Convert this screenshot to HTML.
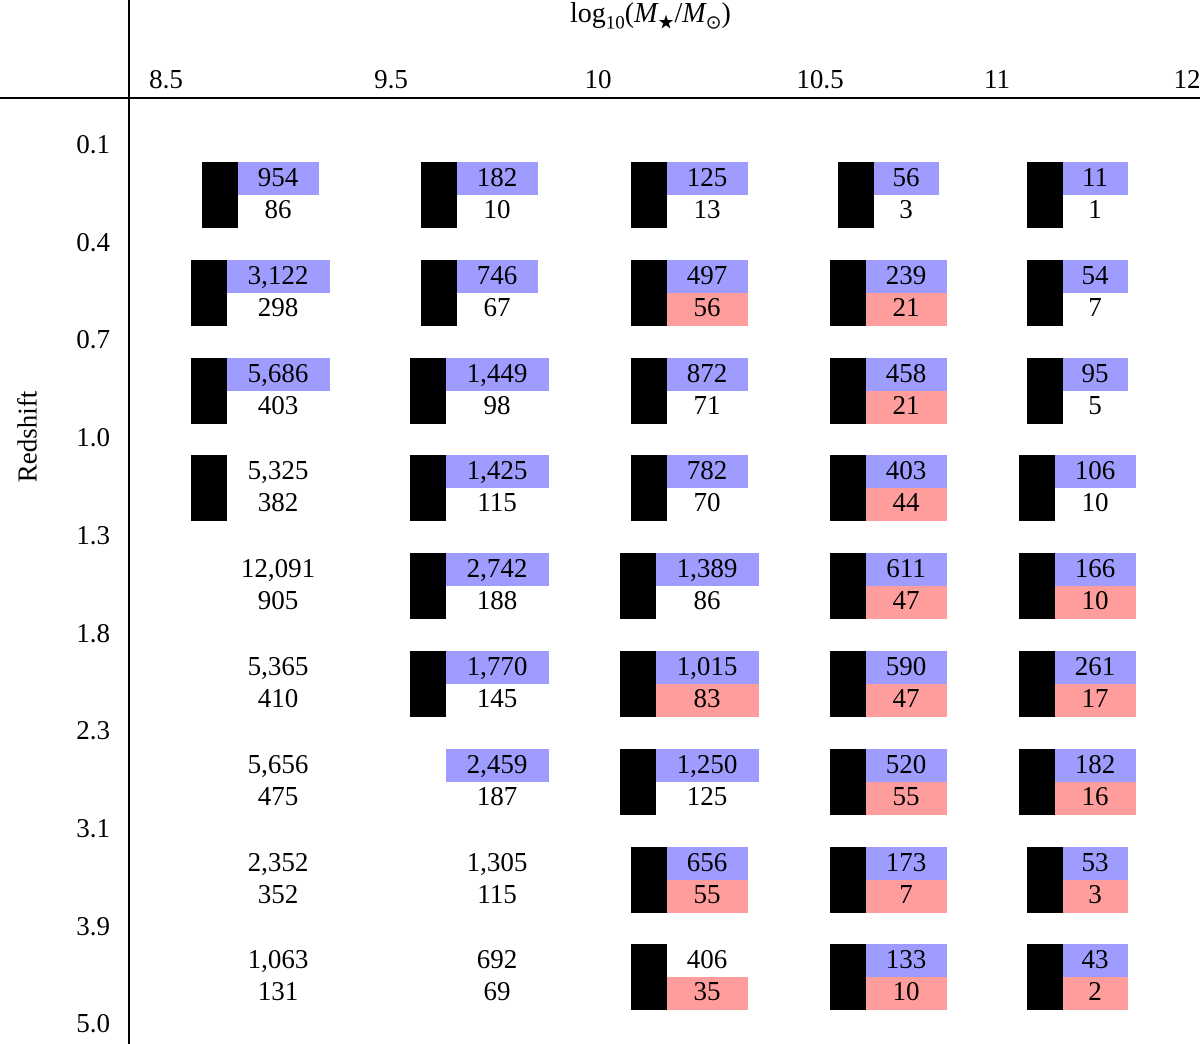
<!DOCTYPE html>
<html><head><meta charset="utf-8"><style>
body{margin:0;background:#fff;font-family:"Liberation Serif",serif;}
#c{position:relative;width:1200px;height:1044px;overflow:hidden;}
.t{position:absolute;font-size:27px;color:#000;white-space:nowrap;line-height:1;}
.bx{position:absolute;}
</style></head><body>
<div id="c">
<div class="bx" style="left:128px;top:0;width:1.5px;height:1044px;background:#000"></div>
<div class="bx" style="left:0;top:97px;width:1200px;height:1.5px;background:#000"></div>
<div class="t" style="left:570px;top:0px;font-size:28px">log<sub style="font-size:19px">10</sub>(<i>M</i><sub style="font-size:19px">★</sub>/<i>M</i><sub style="font-size:19px">⊙</sub>)</div>
<div class="t" style="left:-18px;top:423px;transform:rotate(-90deg);">Redshift</div>
</div>
<script>
const xTicks=["8.5","9.5","10","10.5","11","12"];
const xTickPos=[166,391,598,820,997,1187];
const zTicks=["0.1","0.4","0.7","1.0","1.3","1.8","2.3","3.1","3.9","5.0"];
const topVals=[
["954","182","125","56","11"],
["3,122","746","497","239","54"],
["5,686","1,449","872","458","95"],
["5,325","1,425","782","403","106"],
["12,091","2,742","1,389","611","166"],
["5,365","1,770","1,015","590","261"],
["5,656","2,459","1,250","520","182"],
["2,352","1,305","656","173","53"],
["1,063","692","406","133","43"]];
const botVals=[
["86","10","13","3","1"],
["298","67","56","21","7"],
["403","98","71","21","5"],
["382","115","70","44","10"],
["905","188","86","47","10"],
["410","145","83","47","17"],
["475","187","125","55","16"],
["352","115","55","7","3"],
["131","69","35","10","2"]];
const flags=[
["bu","bu","bu","bu","bu"],
["bu","bu","bur","bur","bu"],
["bu","bu","bu","bur","bu"],
["b","bu","bu","bur","bu"],
["","bu","bu","bur","bur"],
["","bu","bur","bur","bur"],
["","u","bu","bur","bur"],
["","","bur","bur","bur"],
["","","br","bur","bur"]];
const colCenters=[278,497,707,906,1095];
const c=document.getElementById('c');
function add(cls,style,txt){const d=document.createElement('div');d.className=cls;d.style.cssText=style;if(txt!==undefined)d.textContent=txt;c.appendChild(d);return d;}
xTicks.forEach((t,i)=>{const d=add('t',`left:${xTickPos[i]-40}px;width:80px;text-align:center;top:66px`,t);

});
zTicks.forEach((t,i)=>{const d=add('t',`left:40px;width:70px;text-align:right;top:${131+i*97.7}px`,t);

});
function bw(s){return s.length<=2?65:(s.length===3?81:103);}
for(let r=0;r<topVals.length;r++){for(let k=0;k<5;k++){
 const cx=colCenters[k],y=162+r*97.8,w=bw(topVals[r][k]),f=flags[r][k];
 if(f.includes('b')){const d=add('bx',`left:${cx-w/2-36}px;top:${y}px;width:36px;height:66px;background:#000`);
 
 }
 if(f.includes('u')){const d=add('bx',`left:${cx-w/2}px;top:${y}px;width:${w}px;height:33px;background:#9f9cff`);
 
 }
 if(f.includes('r')){const d=add('bx',`left:${cx-w/2}px;top:${y+33}px;width:${w}px;height:33px;background:#ff9c9c`);
 
 }
 const a=add('t',`left:${cx-60}px;width:120px;text-align:center;top:${y+2}px`,topVals[r][k]);
 
 
 const b=add('t',`left:${cx-60}px;width:120px;text-align:center;top:${y+34}px`,botVals[r][k]);
 
 
}}
</script>
</body></html>
